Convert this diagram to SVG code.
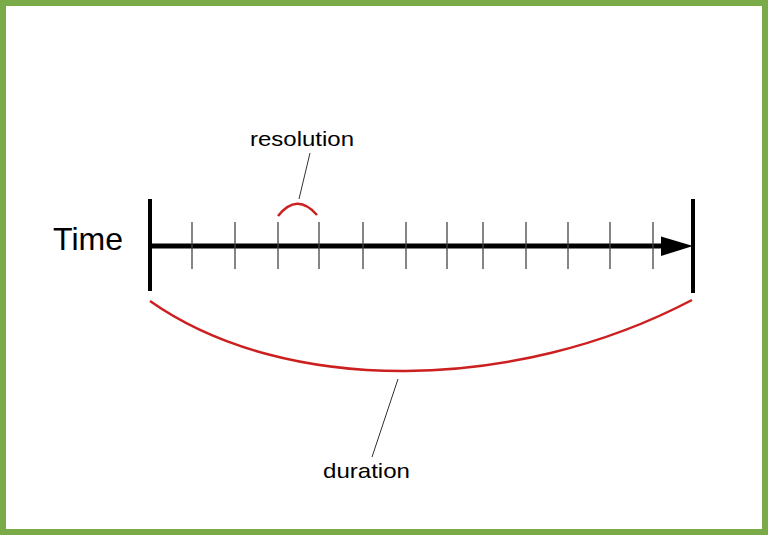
<svg xmlns="http://www.w3.org/2000/svg" width="769" height="535" viewBox="0 0 769 535">
<style>
.tick{stroke:#444;stroke-width:1.3}
.bar{stroke:#000;stroke-width:4}
.red{fill:none;stroke:#cc1f1f;stroke-width:2.5}
.lead{stroke:#333;stroke-width:1}
text{font-family:"Liberation Sans",Arial,sans-serif;fill:#000}
</style>
<rect x="0" y="0" width="769" height="535" fill="#fff"/>
<rect x="3" y="3" width="762" height="529" fill="none" stroke="#7aab48" stroke-width="6"/>
<g id="axis">
<line x1="150" y1="246" x2="666" y2="246" stroke="#000" stroke-width="5"/>
<polygon points="661,236.5 693,246 661,256" fill="#000"/>
<line class="bar" x1="150" y1="199" x2="150" y2="291"/>
<line class="bar" x1="693" y1="199" x2="693" y2="293"/>
</g>
<g id="ticks">
<line class="tick" x1="192" y1="222" x2="192" y2="269"/>
<line class="tick" x1="235" y1="222" x2="235" y2="269"/>
<line class="tick" x1="278" y1="222" x2="278" y2="269"/>
<line class="tick" x1="319" y1="222" x2="319" y2="269"/>
<line class="tick" x1="363" y1="222" x2="363" y2="269"/>
<line class="tick" x1="406" y1="222" x2="406" y2="269"/>
<line class="tick" x1="447" y1="222" x2="447" y2="269"/>
<line class="tick" x1="483" y1="222" x2="483" y2="269"/>
<line class="tick" x1="526" y1="222" x2="526" y2="269"/>
<line class="tick" x1="568" y1="222" x2="568" y2="269"/>
<line class="tick" x1="610" y1="222" x2="610" y2="269"/>
<line class="tick" x1="653" y1="222" x2="653" y2="269"/>
</g>
<g id="time-label"><text x="53" y="250" font-size="30.5" textLength="70" lengthAdjust="spacingAndGlyphs">Time</text></g>
<g id="resolution">
<path class="red" d="M278,216 Q297,192 317,215"/>
<text x="302" y="146" font-size="21" text-anchor="middle" textLength="104" lengthAdjust="spacingAndGlyphs">resolution</text>
</g>
<g id="duration">
<path class="red" d="M150,301 C285,396 515,393 692,300"/>
<text x="366.5" y="478" font-size="21" text-anchor="middle" textLength="87" lengthAdjust="spacingAndGlyphs">duration</text>
</g>
<g id="connectors">
<line class="lead" x1="299" y1="199" x2="310" y2="153"/>
<line class="lead" x1="398" y1="379" x2="372" y2="457"/>
</g>
</svg>
